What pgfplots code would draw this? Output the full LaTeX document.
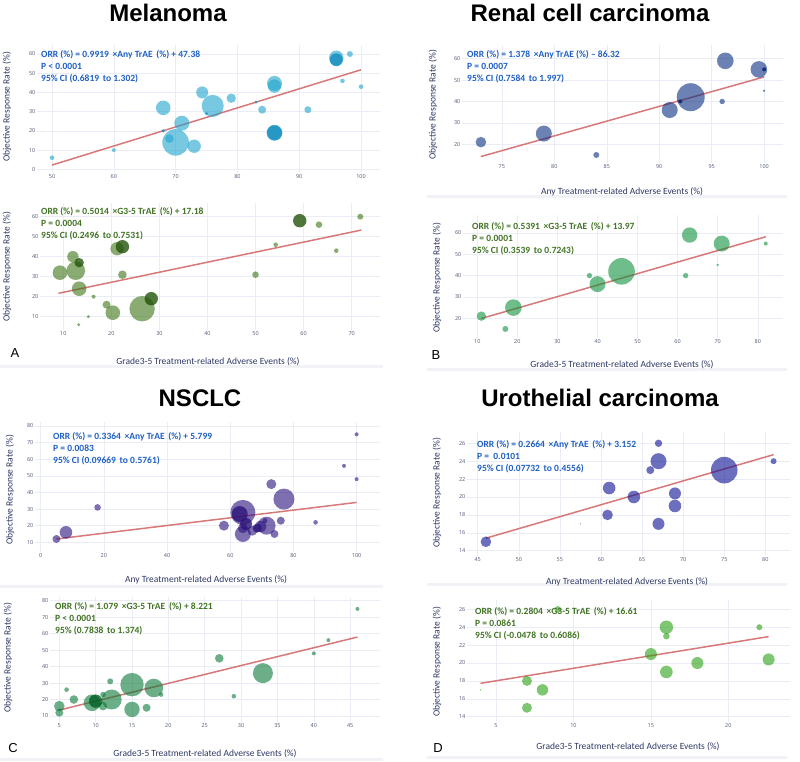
\documentclass[border=0pt]{standalone}
\usepackage{pgfplots}
\pgfplotsset{compat=1.18}
\usepackage{fontspec}
\setmainfont{Carlito}
\newfontfamily\titlefont{Liberation Sans}
\newfontfamily\tickfont{Open Sans}
\definecolor{melA}{RGB}{30,163,205}
\definecolor{melAd}{RGB}{20,140,190}
\definecolor{melG}{RGB}{60,115,20}
\definecolor{melGd}{RGB}{35,85,10}
\definecolor{renA}{RGB}{10,45,130}
\definecolor{renAd}{RGB}{5,30,100}
\definecolor{renG}{RGB}{15,145,60}
\definecolor{nscA}{RGB}{40,15,125}
\definecolor{nscAd}{RGB}{45,20,120}
\definecolor{nscG}{RGB}{10,120,55}
\definecolor{nscGd}{RGB}{0,95,35}
\definecolor{uroA}{RGB}{10,15,145}
\definecolor{uroG}{RGB}{40,160,20}
\definecolor{regl}{RGB}{212,105,105}
\definecolor{gridc}{RGB}{234,237,245}
\definecolor{tickc}{RGB}{80,90,120}
\definecolor{labc}{RGB}{45,55,100}
\definecolor{annB}{RGB}{30,95,195}
\definecolor{annG}{RGB}{65,115,35}
\definecolor{sepc}{RGB}{240,242,245}
\pgfplotsset{
  base/.style={scale only axis, anchor=south west,
    axis line style={draw=none}, major tick length=0pt,
    grid=major, grid style={line width=0.5pt, color=gridc},
    tick label style={font=\tickfont\fontsize{5.5}{6}\selectfont, text=tickc, inner sep=1.5pt},
    /pgf/number format/assume math mode=true},
  bubbles/.style={scatter, only marks, mark=*,
    scatter/use mapped color={draw=#1, draw opacity=0, line width=0pt, fill=#1, fill opacity=0.6},
    visualization depends on={\thisrow{r} \as \rad},
    scatter/@pre marker code/.append style={/tikz/mark size=\rad}},
  dbubbles/.style={scatter, only marks, mark=*,
    scatter/use mapped color={draw=#1, draw opacity=0, line width=0pt, fill=#1, fill opacity=0.8},
    visualization depends on={\thisrow{r} \as \rad},
    scatter/@pre marker code/.append style={/tikz/mark size=\rad}},
  reg/.style={no marks, color=regl, line width=1.5pt, opacity=0.9},
}
\newcommand{\ann}[5]{\node[anchor=north west, align=left, inner sep=0pt, text=#3,
  font=\bfseries\fontsize{9.5}{12}\selectfont] at (#1pt,#2pt) {#4\\#5};}
\newcommand{\yl}[2]{\node[rotate=90, text=labc, font=\fontsize{9.5}{11}\selectfont] at (#1pt,#2pt) {Objective Response Rate (\%)};}
\newcommand{\xl}[3]{\node[text=labc, font=\fontsize{9.5}{11}\selectfont] at (#1pt,#2pt) {#3};}
\begin{document}
\begin{tikzpicture}
\useasboundingbox (0pt,0pt) rectangle (800pt,762pt);
% faint separators
\draw[sepc, line width=3pt] (0pt,395pt) -- (383pt,395pt);
\draw[sepc, line width=3pt] (427pt,565pt) -- (787pt,565pt);
\draw[sepc, line width=3pt] (427pt,392pt) -- (787pt,392pt);
\draw[sepc, line width=3pt] (0pt,175pt) -- (383pt,175pt);
\draw[sepc, line width=3pt] (0pt,2pt) -- (383pt,2pt);
\draw[sepc, line width=3pt] (427pt,177pt) -- (787pt,177pt);
\draw[sepc, line width=3pt] (427pt,4pt) -- (787pt,4pt);
% titles
\node[font=\titlefont\bfseries\fontsize{24}{26}\selectfont] at (168pt,749pt) {Melanoma};
\node[font=\titlefont\bfseries\fontsize{24}{26}\selectfont] at (590pt,749pt) {Renal cell carcinoma};
\node[font=\titlefont\bfseries\fontsize{24}{26}\selectfont] at (200pt,364pt) {NSCLC};
\node[font=\titlefont\bfseries\fontsize{24}{26}\selectfont] at (600pt,364pt) {Urothelial carcinoma};
% panel letters
\node[font=\titlefont\fontsize{13}{14}\selectfont] at (15pt,409pt) {A};
\node[font=\titlefont\fontsize{13}{14}\selectfont] at (436pt,407pt) {B};
\node[font=\titlefont\fontsize{13}{14}\selectfont] at (13pt,14pt) {C};
\node[font=\titlefont\fontsize{13}{14}\selectfont] at (438pt,14pt) {D};

% ---------- A top: Melanoma, any TrAE
\begin{axis}[base, at={(37pt,589pt)}, width=343pt, height=128pt,
  xmin=47.57, xmax=103.07, ymin=-1.93, ymax=64.7,
  xtick={50,60,...,100}, ytick={0,10,...,60}]
\addplot[bubbles=melA] table {
x y r
50 6 2.3
60 10 2
68 32 7.3
69 16 4.3
70 14 13.3
71 24 7.5
73 12 6.7
74.3 40 6
76 33 11
79 37 4.7
84 31 4
86 44.7 7.5
86 43.3 6.7
86 19 8
91.4 31 3.5
96 58 7.3
98.2 60 3
97 46 2.3
100 43 2.3
};
\addplot[dbubbles=melAd] table {
x y r
68 20 1.8
75 29 1.5
83 35 1.5
86 19 7.5
96 57 6.5
};
\addplot[reg] coordinates {(50,2.2) (100,51.8)};
\end{axis}
\ann{41}{712}{annB}{ORR (\%) = 0.9919 \,×Any TrAE \,(\%) + 47.38\\P < 0.0001}{95\% CI (0.6819 \,to 1.302)}
\yl{7}{655}

% ---------- A bottom: Melanoma, G3-5
\begin{axis}[base, at={(40pt,432pt)}, width=340pt, height=127pt,
  xmin=5.15, xmax=75.9, ymin=3.35, ymax=66.85,
  xtick={10,20,...,70}, ytick={10,20,...,60}]
\addplot[bubbles=melG] table {
x y r
9.3 32 7.3
12 40 5.7
12.6 33 9.3
13.3 24 7.3
13.2 6 1.7
15.2 10 1.7
16.3 20 2
19 16 4
20.3 12 7.3
21.2 44 6.7
22.3 31 4.3
26.4 14 12.7
50 31 3.3
54.2 46 2.3
63.2 56 3.3
66.8 43 2.3
71.8 60 3
};
\addplot[dbubbles=melGd] table {
x y r
13.3 37 4.7
22.3 45 6.7
28.3 19 6.7
59.2 58 6.7
};
\addplot[reg] coordinates {(9,21.7) (72,53.3)};
\end{axis}
\ann{41}{555}{annG}{ORR (\%) = 0.5014 \,×G3-5 TrAE \,(\%) + 17.18\\P = 0.0004}{95\% CI (0.2496 \,to 0.7531)}
\yl{7}{495}
\xl{208}{400}{Grade3-5 Treatment-related Adverse Events (\%)}

% ---------- B top: Renal, any
\begin{axis}[base, at={(462pt,599pt)}, width=321pt, height=118pt,
  xmin=71.2, xmax=101.8, ymin=11.26, ymax=66.4,
  xtick={75,80,...,100}, ytick={20,30,...,60}]
\addplot[bubbles=renA] table {
x y r
73 21 5.3
79 25 8
84 15 3
91 36 8
93 42 14
96 40 2.7
96.3 59 8.3
99.5 55 8.3
100 45 1.3
};
\addplot[dbubbles=renAd] table {
x y r
92 40 2
100 55 2
};
\addplot[reg] coordinates {(73,14.27) (100,51.48)};
\end{axis}
\ann{467}{712}{annB}{ORR (\%) = 1.378 \,×Any TrAE (\%) – 86.32\\P = 0.0007}{95\% CI (0.7584 \,to 1.997)}
\yl{433}{657}
\xl{622}{570}{Any Treatment-related Adverse Events (\%)}

% ---------- B bottom: Renal, G3-5
\begin{axis}[base, at={(463pt,424pt)}, width=320pt, height=123pt,
  xmin=6.43, xmax=86.3, ymin=10.76, ymax=68.4,
  xtick={10,20,...,80}, ytick={20,30,...,60}]
\addplot[bubbles=renG] table {
x y r
11 21 4.7
17 15 3
19 25 8.3
38 40 2.7
40 36 8
46 42 13.3
62 40 2.7
63 59 7.7
70 45 1.3
71 55 8
82 55 2
};
\addplot[reg] coordinates {(11,19.9) (82,58.2)};
\end{axis}
\ann{472}{540}{annG}{ORR (\%) = 0.5391 \,×G3-5 TrAE \,(\%) + 13.97\\P = 0.0001}{95\% CI (0.3539 \,to 0.7243)}
\yl{437}{484}
\xl{622}{397}{Grade3-5 Treatment-related Adverse Events (\%)}

% ---------- C top: NSCLC, any
\begin{axis}[base, at={(35pt,210pt)}, width=345pt, height=130pt,
  xmin=-1.8, xmax=107.4, ymin=4.16, ymax=82.4,
  xtick={0,20,...,100}, ytick={10,20,...,80}]
\addplot[bubbles=nscA] table {
x y r
5 12 4
8 16 6.3
18 31 3.3
58 20 5
64 28 12.5
64 15 8
64 18.5 5
67 17 5
69.6 19.5 5.7
71.5 20 9
71 23 2.5
73 45 5
74 15 4
76 23 4
77 36 10.5
87 22 2.3
96 56 2
100 75 2
100 48 2
};
\addplot[dbubbles=nscAd] table {
x y r
63 27 8
65 21 6
68.5 18.5 4.5
};
\addplot[reg] coordinates {(5,12) (100,34)};
\end{axis}
\ann{53}{330}{annB}{ORR (\%) = 0.3364 \,×Any TrAE \,(\%) + 5.799\\P = 0.0083}{95\% CI (0.09669 \,to 0.5761)}
\yl{10}{272}
\xl{206}{182}{Any Treatment-related Adverse Events (\%)}

% ---------- C bottom: NSCLC, G3-5
\begin{axis}[base, at={(50pt,40pt)}, width=330pt, height=125pt,
  xmin=3.72, xmax=49.1, ymin=6.36, ymax=82.2,
  xtick={5,10,...,45}, ytick={10,20,...,80}]
\addplot[bubbles=nscG] table {
x y r
5 16 5.3
5 12 4
6 26 2.3
7 20 4.3
9.5 18 8.3
11 23 2.7
11 16 4.3
12 31 3
12.2 20 10
15 29 11.7
15 14 7.7
17 15 4
18 27 9.3
19 23 2.3
27 45 4.3
29 22 2.3
33 36 10
40 48 2
42 56 2
46 75 2
};
\addplot[dbubbles=nscGd] table {
x y r
10 19 6.7
};
\addplot[reg] coordinates {(5,13.6) (46,57.9)};
\end{axis}
\ann{55}{160}{annG}{ORR (\%) = 1.079 \,×G3-5 TrAE \,(\%) + 8.221\\P < 0.0001}{95\% (0.7838 \,to 1.374)}
\yl{8}{104}
\xl{205}{8}{Grade3-5 Treatment-related Adverse Events (\%)}

% ---------- D top: Urothelial, any
\begin{axis}[base, at={(467pt,206pt)}, width=323pt, height=124pt,
  xmin=43.7, xmax=83, ymin=13.41, ymax=27.26,
  xtick={45,50,...,80}, ytick={14,16,...,26}]
\addplot[bubbles=uroA] table {
x y r
46 15 5.3
57.5 17 0.6
60.8 18 5.3
61 21 6.3
64 20 6.3
66 23 4
67 26 3.7
67 24 8
67 17 6
69 20.4 6
69 19 6.3
75 23 13.3
81 24 3
};
\addplot[reg] coordinates {(46,15.4) (81,24.73)};
\end{axis}
\ann{477}{322}{annB}{ORR (\%) = 0.2664 \,×Any TrAE \,(\%) + 3.152\\P = \ 0.0101}{95\% CI (0.07732 \,to 0.4556)}
\yl{437}{269}
\xl{627}{180}{Any Treatment-related Adverse Events (\%)}

% ---------- D bottom: Urothelial, G3-5
\begin{axis}[base, at={(467pt,40pt)}, width=323pt, height=122pt,
  xmin=3.13, xmax=23.98, ymin=13.41, ymax=27.04,
  xtick={5,10,15,20}, ytick={14,16,...,26}]
\addplot[bubbles=uroG] table {
x y r
4 17 0.7
7 18 5
7 15 5
8 17 5.7
9 26 3.3
15 21 6
16 24 6.7
16 23 3.3
16 19 6.3
18 20 6
22 24 3
22.6 20.4 6
};
\addplot[reg] coordinates {(4,17.73) (22.6,22.95)};
\end{axis}
\ann{475}{155}{annG}{ORR (\%) = 0.2804 \,×G3-5 TrAE \,(\%) + 16.61\\P = 0.0861}{95\% CI (-0.0478 \,to 0.6086)}
\yl{437}{100}
\xl{628}{15}{Grade3-5 Treatment-related Adverse Events (\%)}
\end{tikzpicture}
\end{document}
